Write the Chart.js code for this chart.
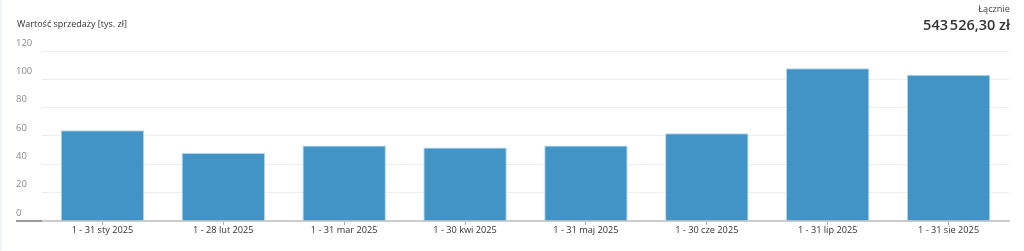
<!DOCTYPE html>
<html>
<head>
<meta charset="utf-8">
<script src="https://cdn.jsdelivr.net/npm/chart.js@4"></script>
<style>
  html, body { margin: 0; padding: 0; background: #fff; }
  body { width: 1024px; height: 251px; position: relative; overflow: hidden; font-family: "Open Sans", sans-serif; }
  #edge { position: absolute; left: 0; top: 0; width: 2px; height: 251px; background: #eef3f8; }
  #wrap { position: absolute; left: 0; top: 0; width: 1024px; height: 251px; }
  #title { position: absolute; left: 17px; top: 17px; font-size: 9px; color: #333; }
  #totalLabel { position: absolute; right: 14px; top: 2px; font-size: 9.2px; color: #444; }
  #total { position: absolute; right: 14px; top: 15px; font-size: 14.5px; font-weight: 600; color: #333; }
</style>
</head>
<body>
<div id="edge"></div>
<div id="wrap"><canvas id="chart"></canvas></div>
<div id="title">Wartość sprzedaży [tys. zł]</div>
<div id="totalLabel">Łącznie</div>
<div id="total">543&#8239;526,30 zł</div>
<script>
const labels = [
  "1 - 31 sty 2025",
  "1 - 28 lut 2025",
  "1 - 31 mar 2025",
  "1 - 30 kwi 2025",
  "1 - 31 maj 2025",
  "1 - 30 cze 2025",
  "1 - 31 lip 2025",
  "1 - 31 sie 2025",
];
const sales = [64, 48, 53.3, 51.8, 53.3, 62, 107.8, 103.3];
const yTicks = [0, 20, 40, 60, 80, 100, 120];

// darker stub of the zero line under the "0" label
const zeroStub = {
  id: "zeroStub",
  afterDraw(chart) {
    const c = chart.ctx;
    const y = chart.scales.y.getPixelForValue(0);
    c.save();
    c.strokeStyle = "#999";
    c.lineWidth = 2;
    c.beginPath();
    c.moveTo(16, y);
    c.lineTo(chart.chartArea.left, y);
    c.stroke();
    c.restore();
  },
};

window.onload = function () {
  const ctx = document.getElementById("chart").getContext("2d");
  new Chart(ctx, {
    type: "bar",
    data: {
      labels: labels,
      datasets: [
        {
          data: sales,
          backgroundColor: "#4294c6",
          borderColor: "#b4d6ec",
          borderWidth: 1,
          barPercentage: 0.69,
          categoryPercentage: 1,
        },
      ],
    },
    options: {
      responsive: true,
      maintainAspectRatio: false,
      animation: false,
      layout: { padding: { left: 16, right: 15, top: 51, bottom: 15 } },
      plugins: { legend: { display: false }, tooltip: { enabled: false } },
      scales: {
        y: {
          min: 0,
          max: 120,
          afterBuildTicks: (s) => { s.ticks = yTicks.map((v) => ({ value: v })); },
          afterFit: (s) => { s.width = 26; },
          ticks: {
            crossAlign: "far",
            labelOffset: -8,
            padding: 0,
            color: "#8a8a8a",
            font: { family: "Open Sans", size: 9.5 },
          },
          grid: { color: "#eeeeee", drawTicks: false, lineWidth: 1 },
          border: { display: false },
        },
        x: {
          offset: true,
          ticks: {
            color: "#333",
            padding: 0,
            maxRotation: 0,
            font: { family: "Open Sans", size: 9.2 },
          },
          grid: { offset: false, drawOnChartArea: false, drawTicks: true, tickLength: 4, color: "#aaa" },
          border: { color: "#cccccc", width: 2 },
        },
      },
    },
    plugins: [zeroStub],
  });
};
</script>
</body>
</html>
